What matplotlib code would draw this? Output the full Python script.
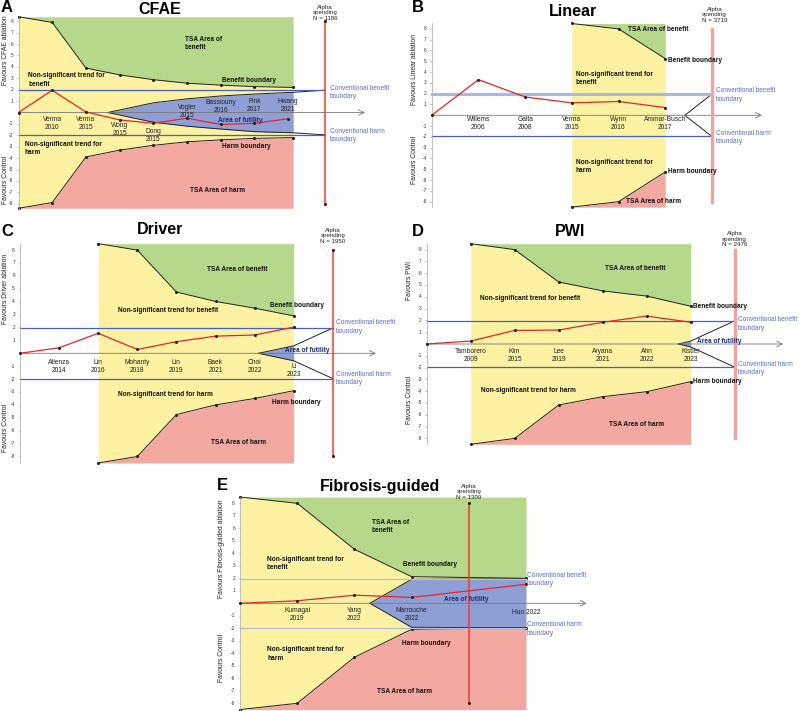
import numpy as np
import matplotlib.pyplot as plt

plt.rcParams['font.family'] = ['Liberation Sans', 'DejaVu Sans']

W, H = 800, 711

GREEN = '#b6d88b'
YELLOW = '#fcf2a2'
PINK = '#f4a8a2'
FUTIL = '#8f9fd6'
CONV = '#4a5ec4'
CONV_TXT = '#5a6cc8'
ZRED = '#e5262a'
NAVY = '#1c2a73'

# ---------------- data ----------------
# A  CFAE
a_studies = ["Verma\n2010", "Verma\n2015", "Wong\n2015", "Dong\n2015", "Vogler\n2015",
             "Bassiouny\n2016", "Fink\n2017", "Hwang\n2021"]
a_z = [0, 1.95, 0.05, -0.65, -0.95, -0.5, -1.05, -0.95, -0.55]
a_bx = [0, 1, 2, 3, 4, 5, 6, 7, 8.15]
a_benefit = [8.4, 7.9, 3.9, 3.3, 2.88, 2.57, 2.4, 2.27, 2.2]
a_harm = [-8.4, -7.9, -3.9, -3.3, -2.88, -2.57, -2.4, -2.27, -2.2]
a_fx = [2.65, 4, 5, 6, 7, 8.15, 9.1]
a_fut_up = [0, 0.85, 1.2, 1.45, 1.62, 1.77, 1.96]
a_fut_lo = [0, -0.85, -1.2, -1.45, -1.68, -1.78, -1.96]

# B  Linear
b_studies = ["Willems\n2006", "Galta\n2008", "Verma\n2015", "Wynn\n2016", "Ammar-Busch\n2017"]
b_z = [0, 3.3, 1.7, 1.15, 1.28, 0.72]
b_bx = [3, 4, 5]
b_benefit = [8.5, 8.0, 5.25]
b_harm = [-8.5, -8.0, -5.25]
b_fx = [5.42, 6]
b_fut_up = [0, 1.96]
b_fut_lo = [0, -1.96]

# C  Driver
c_studies = ["Atienza\n2014", "Lin\n2016", "Mohanty\n2018", "Lin\n2019", "Baek\n2021",
             "Choi\n2022", "Li\n2023"]
c_z = [0, 0.43, 1.55, 0.3, 0.9, 1.33, 1.42, 2.03]
c_bx = [2, 3, 4, 5, 6, 7]
c_benefit = [8.5, 8.0, 4.75, 4.02, 3.5, 2.9]
c_harm = [-8.5, -8.0, -4.75, -4.0, -3.5, -2.9]
c_fx = [6.1, 7, 8]
c_fut_up = [0, 0.58, 1.96]
c_fut_lo = [0, -0.58, -1.96]

# D  PWI
d_studies = ["Tamborero\n2009", "Kim\n2015", "Lee\n2019", "Aryana\n2021", "Ahn\n2022",
             "Kistler\n2023"]
d_z = [0, 0.25, 1.15, 1.18, 1.84, 2.37, 1.84]
d_bx = [1, 2, 3, 4, 5, 6]
d_benefit = [8.5, 8.0, 5.25, 4.5, 4.06, 3.2]
d_harm = [-8.5, -8.0, -5.17, -4.46, -4.04, -3.19]
d_fx = [5.72, 6, 7]
d_fut_up = [0, 0.25, 1.96]
d_fut_lo = [0, -0.25, -1.96]

# E  Fibrosis-guided
e_studies = ["Kumagai\n2019", "Yang\n2022", "Marrouche\n2022", "Huo 2022"]
e_study_x = [1, 2, 3, 5]
e_zx = [0, 1, 2, 3, 5]
e_z = [0, 0.2, 0.65, 0.47, 1.52]
e_bx = [0, 1, 2, 3, 5]
e_benefit = [8.5, 8.0, 4.32, 2.13, 2.0]
e_harm = [-8.5, -8.0, -4.32, -2.08, -1.96]
e_fx = [2.27, 3, 5]
e_fut_up = [0, 1.92, 1.96]
e_fut_lo = [0, -1.92, -1.96]

alpha_n = {'A': 1186, 'B': 3719, 'C': 1950, 'D': 2476, 'E': 1309}

fig = plt.figure(figsize=(W / 100, H / 100), dpi=100)


def add_panel(ox, oy, dx, dy, xhi):
    # ox, oy: pixel of (0, 0); dx px per study, dy px per z unit
    xlo, ylo, yhi = -1.0, -10.0, 10.5
    left = ox + xlo * dx
    top = oy - yhi * dy
    ax = fig.add_axes([left / W, 1 - (top + (yhi - ylo) * dy) / H,
                       (xhi - xlo) * dx / W, (yhi - ylo) * dy / H])
    ax.set_xlim(xlo, xhi)
    ax.set_ylim(ylo, yhi)
    ax.axis('off')
    ax.dx = dx
    return ax


def draw_tsa(ax, bx, benefit, harm, fx, fut_up, fut_lo, fill_end, zx, z,
             alpha_x, conv_end, arrow_end, soft_alpha=False, conv_col=CONV):
    top = max(benefit)
    bot = min(harm)
    ax.fill_between(bx, benefit, top, color=GREEN, lw=0, zorder=1)
    ax.fill_between(bx, bot, harm, color=PINK, lw=0, zorder=1)
    ax.fill_between(bx, harm, benefit, color=YELLOW, lw=0, zorder=1)
    fx = np.array(fx)
    if fill_end is not None:
        m = fx <= fill_end + 1e-9
        ax.fill_between(fx[m], np.array(fut_lo)[m], np.array(fut_up)[m],
                        color=FUTIL, lw=0, zorder=2)
    for b in (benefit, harm):
        ax.plot(bx, b, color='#222', lw=0.7, zorder=3)
        ax.plot(bx, b, 'o', color='#222', ms=1.2, zorder=3)
    ax.plot(fx, fut_up, color='#222', lw=0.7, zorder=3)
    ax.plot(fx, fut_lo, color='#222', lw=0.7, zorder=3)
    # conventional boundaries
    ax.plot([0, conv_end], [1.96, 1.96], color=conv_col, lw=0.9, zorder=4)
    ax.plot([0, conv_end], [-1.96, -1.96], color=conv_col, lw=0.9, zorder=4)
    # x axis with arrow
    ax.annotate('', xy=(arrow_end, 0), xytext=(0, 0),
                arrowprops=dict(arrowstyle='->', color='#777', lw=0.6,
                                shrinkA=0, shrinkB=0), zorder=4)
    # y axis
    ax.plot([0, 0], [-8.5, 8.5], color='#aaa', lw=0.5, zorder=4)
    for t in range(-8, 9):
        if t == 0:
            continue
        ax.text(-5 / ax.dx, t, str(t), ha='right', va='center', fontsize=3.4,
                color='#333')
        ax.plot([-1.5 / ax.dx, 0], [t, t], color='#999', lw=0.4)
    # cumulative z-curve
    ax.plot(zx, z, color=ZRED, lw=0.9, zorder=5)
    ax.plot(zx, z, 'o', color='#222', ms=1.2, zorder=5)
    # alpha spending line
    if soft_alpha:
        ax.plot([alpha_x, alpha_x], [-8, 8], color='#f2a3a0', lw=2.4, zorder=5)
    else:
        ax.plot([alpha_x, alpha_x], [-8, 8], color='#f23b2a', lw=1.1, zorder=5)
        ax.plot([alpha_x, alpha_x], [-8, 8], 'o', color='#222', ms=1.2, zorder=6)


def bold(ax, x, y, s, ha='left', color='#111'):
    ax.text(x, y, s, ha=ha, va='center', fontsize=4.7, fontweight='bold',
            color=color, linespacing=1.3, zorder=6)


def conv_labels(ax, x, yb, yh):
    ax.text(x, yb, 'Conventional benefit\nboundary', ha='left', va='center',
            fontsize=4.7, color=CONV_TXT, linespacing=1.3, zorder=6)
    ax.text(x, yh, 'Conventional harm\nboundary', ha='left', va='center',
            fontsize=4.7, color=CONV_TXT, linespacing=1.3, zorder=6)


def studies(ax, xs, labels, ys):
    for x, s, y in zip(xs, labels, ys):
        ax.text(x, y, s, ha='center', va='center', fontsize=4.8, color='#222',
                linespacing=1.2, zorder=6)


def ylabels(ax, x, ytop, ybot, name):
    ax.text(x, ytop, name, rotation=90, ha='center', va='center', fontsize=4.9,
            color='#222')
    ax.text(x, ybot, 'Favours Control', rotation=90, ha='center', va='center',
            fontsize=4.9, color='#222')


def alpha_text(ax, x, y, n):
    ax.text(x, y, 'Alpha\nspending\nN = %d' % n, ha='center', va='bottom',
            fontsize=4.4, color='#222', linespacing=1.15)


def heading(px, py, letter, lx, ly, title):
    fig.text(lx / W, 1 - ly / H, letter, ha='center', va='center', fontsize=12,
             fontweight='bold')
    fig.text(px / W, 1 - py / H, title, ha='center', va='center', fontsize=11.5,
             fontweight='bold')


# ---------------- A ----------------
ax = add_panel(18.5, 112.5, 33.7, 11.4, 11.5)
draw_tsa(ax, a_bx, a_benefit, a_harm, a_fx, a_fut_up, a_fut_lo, 8.15,
         range(len(a_z)), a_z, 9.1, 9.1, 10.28)
studies(ax, range(1, 9), a_studies, [-0.95, -0.95, -1.47, -2.06, 0.07, 0.57, 0.6, 0.6])
bold(ax, 4.94, 6.07, 'TSA Area of\nbenefit')
bold(ax, 0.29, 2.85, 'Non-significant trend for\nbenefit')
bold(ax, 6.03, 2.79, 'Benefit boundary')
bold(ax, 5.93, -0.66, 'Area of futility', color=NAVY)
bold(ax, 0.19, -3.14, 'Non-significant trend for\nharm')
bold(ax, 6.03, -3.0, 'Harm boundary')
bold(ax, 5.09, -6.86, 'TSA Area of harm')
conv_labels(ax, 9.24, 1.77, -2.03)
ylabels(ax, -0.4, 5.5, -5.9, 'Favours CFAE ablation')
alpha_text(ax, 9.1, 8.05, alpha_n['A'])
heading(160, 9, 'A', 7, 7, 'CFAE')

# ---------------- B ----------------
ax = add_panel(431.7, 115.3, 46.7, 10.8, 8.0)
draw_tsa(ax, b_bx, b_benefit, b_harm, b_fx, b_fut_up, b_fut_lo, None,
         range(len(b_z)), b_z, 6, 6, 7.07, soft_alpha=True)
ax.plot([0, 6], [1.96, 1.96], color='#a9b6e6', lw=2.2, zorder=4)
studies(ax, range(1, 6), b_studies, [-0.8] * 5)
bold(ax, 4.21, 7.99, 'TSA Area of benefit')
bold(ax, 5.07, 5.12, 'Benefit boundary')
bold(ax, 3.08, 3.42, 'Non-significant trend for\nbenefit')
bold(ax, 3.08, -4.76, 'Non-significant trend for\nharm')
bold(ax, 5.07, -5.22, 'Harm boundary')
bold(ax, 4.17, -8.0, 'TSA Area of harm')
conv_labels(ax, 6.09, 1.88, -2.04)
ylabels(ax, -0.36, 4.19, -4.1, 'Favours Linear ablation')
alpha_text(ax, 6.06, 8.55, alpha_n['B'])
heading(573, 11, 'B', 418, 7, 'Linear')

# ---------------- C ----------------
ax = add_panel(20, 353.3, 39.1, 12.9, 9.5)
draw_tsa(ax, c_bx, c_benefit, c_harm, c_fx, c_fut_up, c_fut_lo, 7,
         range(len(c_z)), c_z, 8, 8, 9.1)
studies(ax, range(1, 8), c_studies, [-1.0] * 6 + [-1.33])
bold(ax, 5.56, 6.5, 'TSA Area of benefit', ha='center')
bold(ax, 3.8, 3.3, 'Non-significant trend for benefit', ha='center')
bold(ax, 6.4, 3.7, 'Benefit boundary')
bold(ax, 6.77, 0.18, 'Area of futility', color=NAVY)
bold(ax, 3.73, -3.2, 'Non-significant trend for harm', ha='center')
bold(ax, 6.44, -3.8, 'Harm boundary')
bold(ax, 5.58, -6.9, 'TSA Area of harm', ha='center')
conv_labels(ax, 8.08, 2.02, -1.94)
ylabels(ax, -0.38, 5.0, -5.8, 'Favours Driver ablation')
alpha_text(ax, 8, 8.47, alpha_n['C'])
heading(160, 230, 'C', 7, 231, 'Driver')

# ---------------- D ----------------
ax = add_panel(426.7, 344, 44, 11.8, 8.6)
draw_tsa(ax, d_bx, d_benefit, d_harm, d_fx, d_fut_up, d_fut_lo, 6,
         range(len(d_z)), d_z, 7, 7, 8.1, soft_alpha=True)
studies(ax, range(1, 7), d_studies, [-0.99] * 6)
bold(ax, 4.73, 6.4, 'TSA Area of benefit', ha='center')
bold(ax, 2.35, 3.87, 'Non-significant trend for benefit', ha='center')
bold(ax, 6.06, 3.17, 'Benefit boundary')
bold(ax, 6.14, 0.25, 'Area of futility', color=NAVY)
bold(ax, 2.31, -3.95, 'Non-significant trend for harm', ha='center')
bold(ax, 6.06, -3.2, 'Harm boundary')
bold(ax, 4.76, -6.8, 'TSA Area of harm', ha='center')
conv_labels(ax, 7.07, 1.7, -2.09)
ylabels(ax, -0.4, 5.4, -4.7, 'Favours PWI')
alpha_text(ax, 7, 8.2, alpha_n['D'])
heading(570, 232, 'D', 418, 231, 'PWI')

# ---------------- E ----------------
ax = add_panel(240, 603.3, 57.2, 12.5, 6.6)
draw_tsa(ax, e_bx, e_benefit, e_harm, e_fx, e_fut_up, e_fut_lo, 5,
         e_zx, e_z, 4, 5, 6.06, conv_col='#b3bbd8')
studies(ax, e_study_x, e_studies, [-0.88, -0.88, -0.88, -0.72])
bold(ax, 2.3, 6.13, 'TSA Area of\nbenefit')
bold(ax, 0.47, 3.2, 'Non-significant trend for\nbenefit')
bold(ax, 3.32, 3.14, 'Benefit boundary', ha='center')
bold(ax, 3.96, 0.34, 'Area of futility', ha='center', color=NAVY)
bold(ax, 3.26, -3.2, 'Harm boundary', ha='center')
bold(ax, 0.48, -4.05, 'Non-significant trend for\nharm')
bold(ax, 2.88, -7.07, 'TSA Area of harm', ha='center')
conv_labels(ax, 5.01, 1.92, -2.06)
ylabels(ax, -0.32, 4.4, -4.4, 'Favours Fibrosis-guided ablation')
alpha_text(ax, 4, 8.26, alpha_n['E'])
heading(380, 487, 'E', 222, 485, 'Fibrosis-guided')

fig.savefig('out.png', dpi=100)
